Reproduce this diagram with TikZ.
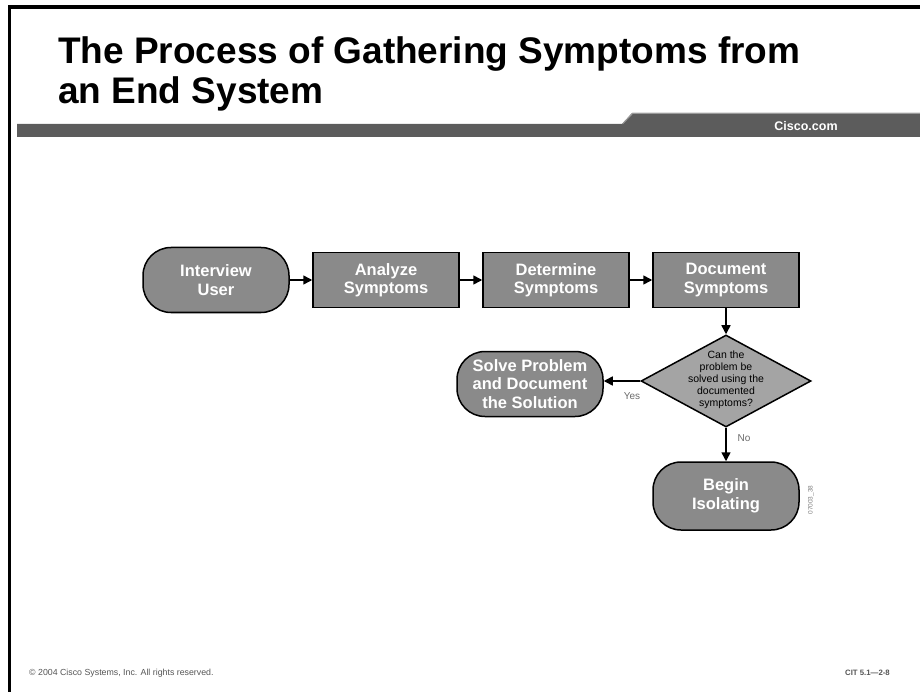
\documentclass[tikz,border=0pt]{standalone}
\usepackage{fontspec}
\setmainfont{Liberation Sans}
\usetikzlibrary{shapes.geometric,shapes.misc,arrows.meta}
\definecolor{bargray}{HTML}{5C5C5C}
\definecolor{barlight}{HTML}{9A9A9A}
\definecolor{boxgray}{HTML}{8A8A8A}
\definecolor{diagray}{HTML}{A4A4A4}
\definecolor{footgray}{HTML}{555555}
\definecolor{labgray}{HTML}{6A6A6A}
\begin{document}
\begin{tikzpicture}[x=1pt,y=-1pt,
  boxfont/.style={font=\bfseries\fontsize{16.5}{18.5}\selectfont, text=white, align=center},
  stadium/.style={boxfont, draw=black, line width=1.5pt, fill=boxgray, rectangle, rounded corners=28pt, minimum width=146pt, minimum height=65pt, inner sep=0pt},
  procbox/.style={boxfont, draw=black, line width=1.5pt, fill=boxgray, rectangle, minimum width=146pt, minimum height=55pt, inner sep=0pt},
  decision/.style={draw=black, line width=1.5pt, fill=diagray, diamond, minimum width=170pt, minimum height=92pt, inner sep=0pt},
  decisiontext/.style={align=center, inner sep=0pt, font=\fontsize{10.5}{12}\selectfont, text=black},
  flow/.style={draw=black, line width=1.5pt, -{Triangle[length=9pt,width=9pt]}},
  smalllabel/.style={font=\fontsize{10}{11}\selectfont, text=labgray}
]
\useasboundingbox (0,0) rectangle (920,692);
% slide frame
\draw[line width=3.5pt] (9.5,692) -- (9.5,7) -- (920,7);
% header bar
\fill[bargray] (17,124) -- (622,124) -- (632,113) -- (920,113) -- (920,137) -- (17,137) -- cycle;
\draw[barlight, line width=1pt] (622.5,124) -- (632.5,113.5) -- (920,113.5);
\node[font=\bfseries\fontsize{12.5}{13}\selectfont, text=white] (cisco) at (806,126) {Cisco.com};
% title
\node[anchor=base west, font=\bfseries\fontsize{37}{40}\selectfont, inner sep=0pt] (title1) at (58,64) {The Process of Gathering Symptoms from};
\node[anchor=base west, font=\bfseries\fontsize{37}{40}\selectfont, inner sep=0pt] (title2) at (58,104) {an End System};
% flow nodes
\node[stadium] (interview) at (216,280) {Interview\\User};
\node[procbox] (analyze) at (386,280) {Analyze\\Symptoms};
\node[procbox] (determine) at (556,280) {Determine\\Symptoms};
\node[procbox] (document) at (726,280) {Document\\Symptoms};
\node[decision] (question) at (726,381) {};
\node[decisiontext] (qtext) at (726,380) {Can the\\problem be\\solved using the\\documented\\symptoms?};
\node[stadium] (solve) at (530,384) {Solve Problem\\and Document\\the Solution};
\node[stadium, minimum height=68pt] (isolate) at (726,496) {Begin\\Isolating};
% connectors
\draw[flow] (interview) -- (analyze);
\draw[flow] (analyze) -- (determine);
\draw[flow] (determine) -- (document);
\draw[flow] (document) -- (question);
\draw[flow] (question.west) -- (solve.east |- question.west);
\draw[flow] (question) -- (isolate);
\node[smalllabel] (yes) at (632,396) {Yes};
\node[smalllabel] (no) at (744,438) {No};
\node[rotate=90, font=\fontsize{6.5}{7}\selectfont, text=gray] (figid) at (811,500) {07003\_38};
% footer
\node[anchor=base west, font=\fontsize{8.8}{10}\selectfont, text=footgray, inner sep=0pt] (copy) at (29,675) {© 2004 Cisco Systems, Inc. All rights reserved.};
\node[anchor=base east, font=\bfseries\fontsize{7.8}{9}\selectfont, text=footgray, inner sep=0pt] (cit) at (890,675) {CIT 5.1—2-8};
\end{tikzpicture}
\end{document}
